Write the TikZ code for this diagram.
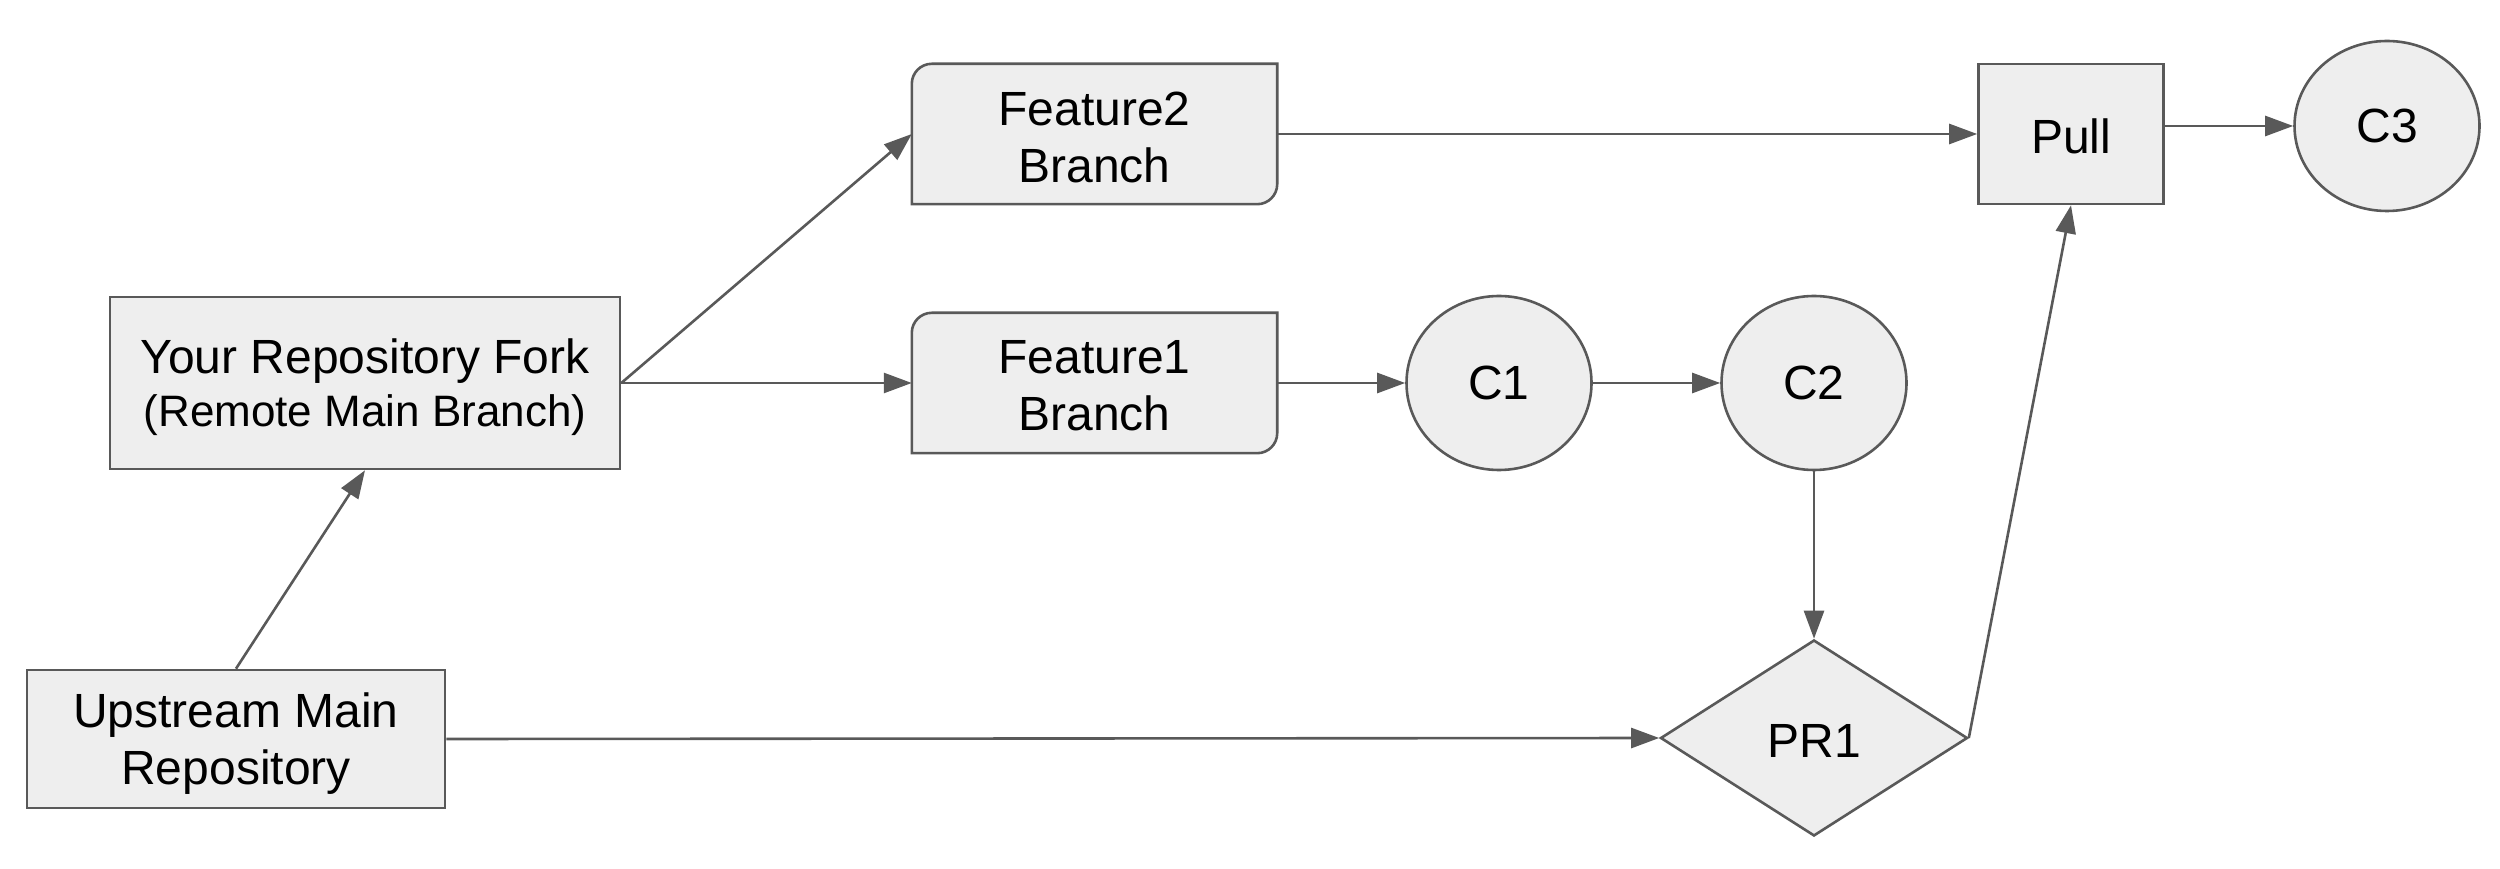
\documentclass[tikz,border=0pt]{standalone}
\usepackage{fontspec}
\setmainfont{Liberation Sans}
\usetikzlibrary{shapes.geometric,arrows.meta,calc}
\definecolor{lnc}{HTML}{595959}
\definecolor{fillc}{HTML}{EEEEEE}
\begin{document}
\begin{tikzpicture}[x=1pt,y=1pt,
  base/.style={draw=lnc,fill=fillc,line width=2.6pt,inner sep=0pt,align=center,
    font=\fontsize{48}{57}\selectfont},
  rectbox/.style={base,rectangle},
  featbox/.style={rectangle,inner sep=0pt,minimum width=365pt,minimum height=140pt},
  txt/.style={inner sep=0pt,align=center,font=\fontsize{48}{57}\selectfont},
  commit/.style={base,ellipse,minimum width=185pt,minimum height=174pt},
  conn/.style={draw=lnc,line width=2.6pt,-{Triangle[length=28pt,width=20pt]}},
  fshape/.style={draw=lnc,fill=fillc,line width=2.6pt}
]
\useasboundingbox (0,0) rectangle (2500,868);

\node[rectbox,minimum width=510pt,minimum height=172pt] (fork) at (365,485) {};
\node[txt] (forkt) at ([yshift=-4pt]fork.center)
  {Your Repository Fork\\[-4pt]{\fontsize{44}{52}\selectfont(Remote Main Branch)}};
\node[rectbox,minimum width=418pt,minimum height=138pt] (up) at (236,129) {};
\node[txt] (upt) at ([yshift=-5pt]up.center) {Upstream Main\\Repository};

\node[featbox] (f2) at (1094.5,734) {};
\path[fshape] (f2.south west) -- ([yshift=-20pt]f2.north west)
  arc[start angle=180,end angle=90,radius=20pt] -- (f2.north east)
  -- ([yshift=20pt]f2.south east) arc[start angle=0,end angle=-90,radius=20pt] -- cycle;
\node[txt] (f2t) at ([yshift=-3pt]f2.center) {Feature2\\Branch};

\node[featbox] (f1) at (1094.5,485) {};
\path[fshape] (f1.south west) -- ([yshift=-20pt]f1.north west)
  arc[start angle=180,end angle=90,radius=20pt] -- (f1.north east)
  -- ([yshift=20pt]f1.south east) arc[start angle=0,end angle=-90,radius=20pt] -- cycle;
\node[txt] (f1t) at ([yshift=-3pt]f1.center) {Feature1\\Branch};

\node[commit] (c1) at (1499,485) {C1};
\node[commit] (c2) at (1814,485) {C2};
\node[base,diamond,minimum width=307pt,minimum height=196pt] (pr) at (1814,130) {};
\node[txt] (prt) at ([yshift=-3pt]pr.center) {PR1};
\node[rectbox,minimum width=185pt,minimum height=140pt] (pull) at (2071,734) {};
\node[txt] (pullt) at ([yshift=-2pt]pull.center) {Pull};
\node[commit,minimum height=170pt] (c3) at (2387,742) {C3};

\draw[conn] (up.north) -- (fork.south);
\draw[conn] (fork.east) -- (f2.west);
\draw[conn] (fork.east) -- (f1.west);
\draw[conn] (f1.east) -- (c1.west);
\draw[conn] (c1.east) -- (c2.west);
\draw[conn] (c2.south) -- (pr.north);
\draw[conn] (up.east) -- (pr.west);
\draw[conn] (pr.east) -- (pull.south);
\draw[conn] (f2.east) -- (pull.west);
\draw[conn] (pull.east |- c3.west) -- (c3.west);
\end{tikzpicture}
\end{document}
